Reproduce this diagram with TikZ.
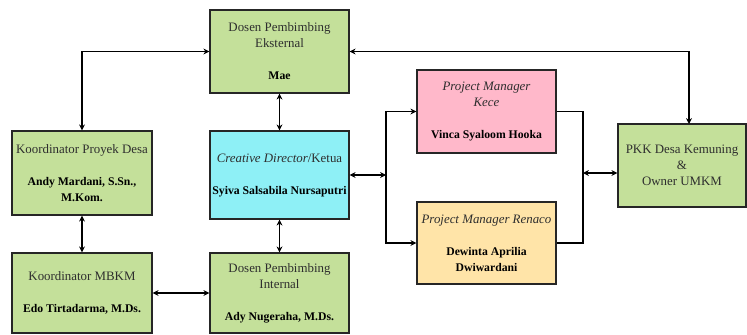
\documentclass[tikz,border=0pt]{standalone}
\usepackage{fontspec}
\setmainfont{Liberation Serif}
\usetikzlibrary{arrows.meta}
\definecolor{boxgreen}{RGB}{196,224,154}
\definecolor{boxcyan}{RGB}{142,240,246}
\definecolor{boxpink}{RGB}{255,184,202}
\definecolor{boxorange}{RGB}{255,228,168}
\newcommand{\who}[1]{{\fontsize{10}{13.66}\selectfont\bfseries\textcolor{black}{#1}}}
\begin{document}
\begin{tikzpicture}[x=0.03cm,y=-0.03cm,<->,>={Stealth[length=5pt,width=5pt]},line width=1.1pt,
    every node/.style={font=\fontsize{11}{13.66}\selectfont,align=center}]
    \tikzset{unit/.style={draw=black!85,text=black!82,line width=1.1pt,minimum width=139*0.03cm,minimum height=83*0.03cm,inner sep=0pt}};
    \useasboundingbox (0,0) rectangle (747,335);
    \node[unit,fill=boxgreen] (sExt) at (279.5,51.5) {Dosen Pembimbing\\Eksternal\\[13.66pt]\who{Mae}};
    \node[unit,fill=boxgreen,minimum width=140*0.03cm,minimum height=84*0.03cm] (sDesa) at (82,173) {Koordinator Proyek Desa\\[13.66pt]\who{Andy Mardani, S.Sn.,}\\\who{M.Kom.}};
    \node[unit,fill=boxcyan,minimum height=88*0.03cm] (sCD) at (279.5,175) {\textit{Creative Director}/Ketua\\[13.66pt]\who{Syiva Salsabila Nursaputri}};
    \node[unit,fill=boxgreen,minimum width=140*0.03cm,minimum height=80*0.03cm] (sMBKM) at (82,293) {Koordinator MBKM\\[13.66pt]\who{Edo Tirtadarma, M.Ds.}};
    \node[unit,fill=boxgreen,minimum height=80*0.03cm] (sInt) at (279.5,293) {Dosen Pembimbing\\Internal\\[13.66pt]\who{Ady Nugeraha, M.Ds.}};
    \node[unit,fill=boxpink] (sKece) at (486.5,111.5) {\textit{Project Manager}\\\textit{Kece}\\[13.66pt]\who{Vinca Syaloom Hooka}};
    \node[unit,fill=boxorange,minimum height=82*0.03cm] (sRenaco) at (486.5,243) {\textit{Project Manager Renaco}\\[13.66pt]\who{Dewinta Aprilia}\\\who{Dwiwardani}};
    \node[unit,fill=boxgreen,minimum width=128*0.03cm] (sPKK) at (682,165.5) {PKK Desa Kemuning\\\&\\Owner UMKM};
    \coordinate (jL) at (386,175);
    \coordinate (jR) at (583,173);
    \coordinate (jTop) at (689,124);
    {
      \path
        (sExt) edge (sCD)
        (sCD) edge (sInt)
        (sDesa) edge (sMBKM)
        (sMBKM) edge (sInt)
        (sCD.east) edge (jL)
        ;
      }
    \draw (sExt.west) -| (sDesa.north);
    \draw (sExt.east) -| (jTop);
    \draw[->] (jL) |- (sKece.west);
    \draw[->] (jL) |- (sRenaco.west);
    \draw[-] (sKece.east) -| (jR) |- (sRenaco.east);
    \draw (jR) -- (jR -| sPKK.west);
\end{tikzpicture}
\end{document}
